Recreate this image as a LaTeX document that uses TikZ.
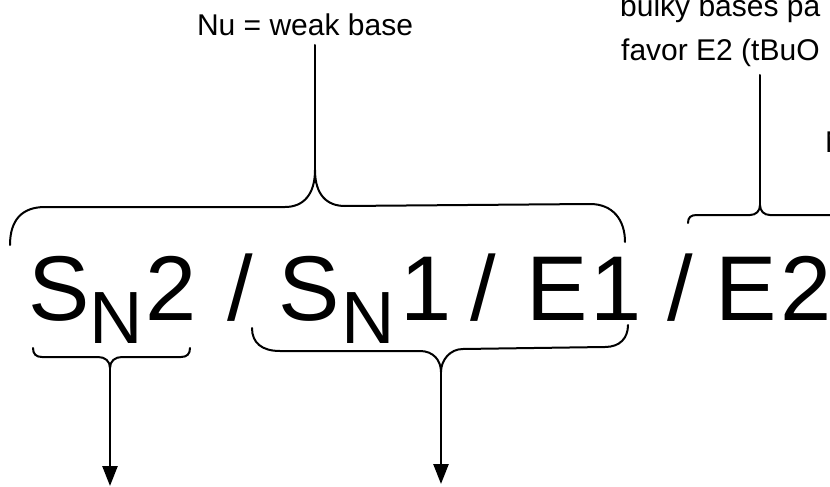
\documentclass[tikz,border=0pt]{standalone}
\usepackage{fontspec}
\setmainfont{Liberation Sans}
\usetikzlibrary{arrows.meta}
\begin{document}
\begin{tikzpicture}[x=1pt,y=-1pt,
  line/.style={line width=2pt, line cap=round, line join=round},
  down/.style={line width=2.6pt, -{Triangle[length=20pt,width=15pt]}},
  big/.style={font=\fontsize{92}{92}\selectfont, inner sep=0pt, anchor=base west},
  subn/.style={font=\fontsize{74}{74}\selectfont, inner sep=0pt, anchor=base west},
  note/.style={font=\fontsize{30}{30}\selectfont, inner sep=0pt}]
\useasboundingbox (0,0) rectangle (830,487);
\clip (0,0) rectangle (830,487);
\fill[white] (0,0) rectangle (830,487);

% mechanism line
\node[big]  (s1)   at (28,320)  {S};
\node[subn] (n1)   at (89,343)  {N};
\node[big]  (two1) at (145,320) {2};
\node[big]  (sl1)  at (227,320) {/};
\node[big]  (s2)   at (278,320) {S};
\node[subn] (n2)   at (341,343) {N};
\node[big]  (one1) at (400,320) {1};
\node[big]  (sl2)  at (470,320) {/};
\node[big]  (e1)   at (526,320) {E};
\node[big]  (one2) at (590,320) {1};
\node[big]  (sl3)  at (667,320) {/};
\node[big]  (e2)   at (715,320) {E};
\node[big]  (two2) at (780,320) {2};

% notes above
\node[note, anchor=base] (nu) at (305,36) {Nu = weak base};
\node[note, anchor=base west] (bulky) at (620,17) {bulky bases pa};
\node[note, anchor=base west] (favor) at (621,60) {favor E2 (tBuO};
\node[note, anchor=base west] (nstrong) at (825,152) {N};

% brace tips
\coordinate (tipA) at (315,170);
\coordinate (topA) at (315,45);
\coordinate (tipB) at (760,205);
\coordinate (topB) at (760,75);
\coordinate (tipC) at (110,368);
\coordinate (endC) at (110,486);
\coordinate (tipD) at (441,372);
\coordinate (endD) at (441,484);

% brace over SN2 / SN1 / E1
\draw[line] (10,245) .. controls (10,220) and (22,207) .. (45,207) -- (285,207)
  .. controls (303,207) and (315,195) .. (tipA)
  .. controls (315,195) and (327,206) .. (345,206) -- (590,204)
  .. controls (613,204) and (625,220) .. (625,242);
\draw[line] (tipA) -- (topA);

% brace over E2
\draw[line] (688,223) .. controls (688,217) and (691,215) .. (697,215) -- (750,215)
  .. controls (756,215) and (760,211) .. (tipB)
  .. controls (760,211) and (764,215) .. (770,215) -- (840,215);
\draw[line] (tipB) -- (topB);

% brace under SN2
\draw[line] (33,348) .. controls (33,354) and (36,357) .. (42,357) -- (98,357)
  .. controls (105,357) and (110,361) .. (tipC)
  .. controls (110,361) and (115,357) .. (122,357) -- (181,357)
  .. controls (187,357) and (190,354) .. (190,348);
\draw[down] (tipC) -- (endC);

% brace under SN1 / E1
\draw[line] (252,328) .. controls (252,343) and (262,351) .. (280,351) -- (420,351)
  .. controls (433,351) and (441,360) .. (tipD)
  .. controls (441,360) and (450,349) .. (463,349) -- (605,347)
  .. controls (620,347) and (628,338) .. (628,325);
\draw[down] (tipD) -- (endD);
\end{tikzpicture}
\end{document}
